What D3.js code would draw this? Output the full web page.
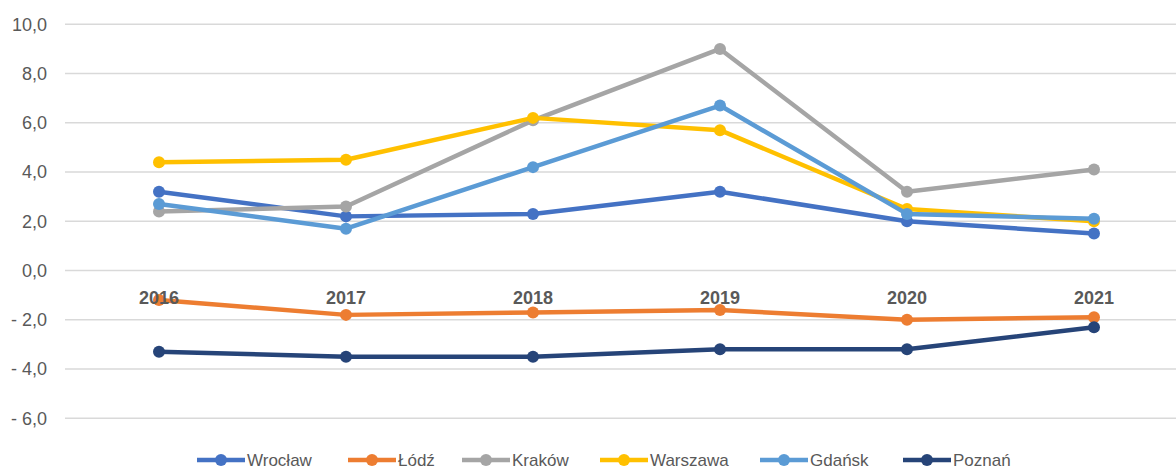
<!DOCTYPE html>
<html>
<head>
<meta charset="utf-8">
<script src="https://cdn.jsdelivr.net/npm/d3@7"></script>
<style>
  body { margin: 0; background: #fff; }
  text { font-family: "Liberation Sans", Arial, sans-serif; }
</style>
</head>
<body>
<svg width="1176" height="470"></svg>
<script>
var years = ["2016", "2017", "2018", "2019", "2020", "2021"];
var cities = ["Wrocław", "Łódź", "Kraków", "Warszawa", "Gdańsk", "Poznań"];
var colors = ["#4472C4", "#ED7D31", "#A5A5A5", "#FFC000", "#5B9BD5", "#264478"];

var wroclaw = [3.2, 2.2, 2.3, 3.2, 2.0, 1.5];
var lodz = [-1.2, -1.8, -1.7, -1.6, -2.0, -1.9];
var krakow = [2.4, 2.6, 6.1, 9.0, 3.2, 4.1];
var warszawa = [4.4, 4.5, 6.2, 5.7, 2.5, 2.0];
var gdansk = [2.7, 1.7, 4.2, 6.7, 2.3, 2.1];
var poznan = [-3.3, -3.5, -3.5, -3.2, -3.2, -2.3];

var yTicks = [10, 8, 6, 4, 2, 0, -2, -4, -6];

var series = [wroclaw, lodz, krakow, warszawa, gdansk, poznan].map(function(v, i) {
  return { name: cities[i], color: colors[i], values: v };
});

var svg = d3.select("svg"),
  width = +svg.attr("width"),
  height = +svg.attr("height");

var x = d3.scalePoint()
  .domain(years)
  .range([159, 1094]);

var y = d3.scaleLinear()
  .domain([-6, 10])
  .range([418.3, 24.3]);

var fmt = function(d) {
  var s = d3.format(".1f")(Math.abs(d)).replace(".", ",");
  return d < 0 ? "- " + s : s;
};

// gridlines
svg.append("g")
  .selectAll("line")
  .data(yTicks)
  .enter().append("line")
  .attr("x1", 65)
  .attr("x2", width)
  .attr("y1", function(d) { return y(d); })
  .attr("y2", function(d) { return y(d); })
  .style("stroke", "#d9d9d9")
  .style("stroke-width", 1.5);

// y labels
svg.append("g")
  .selectAll("text")
  .data(yTicks)
  .enter().append("text")
  .attr("x", 47)
  .attr("y", function(d) { return y(d); })
  .attr("dy", "0.35em")
  .attr("text-anchor", "end")
  .style("font-size", "18px")
  .style("fill", "#595959")
  .text(fmt);

var line = d3.line()
  .x(function(d, i) { return x(years[i]); })
  .y(function(d) { return y(d); });

var g = svg.append("g")
  .selectAll("g")
  .data(series)
  .enter().append("g");

g.append("path")
  .attr("d", function(d) { return line(d.values); })
  .style("fill", "none")
  .style("stroke", function(d) { return d.color; })
  .style("stroke-width", 4.5)
  .style("stroke-linejoin", "round");

g.selectAll("circle")
  .data(function(d) { return d.values.map(function(v, i) { return { v: v, i: i, c: d.color }; }); })
  .enter().append("circle")
  .attr("cx", function(d) { return x(years[d.i]); })
  .attr("cy", function(d) { return y(d.v); })
  .attr("r", 6)
  .style("fill", function(d) { return d.c; });

// year labels (drawn above the lines, as in the original)
svg.append("g")
  .selectAll("text")
  .data(years)
  .enter().append("text")
  .attr("x", function(d) { return x(d); })
  .attr("y", y(0) + 27)
  .attr("dy", "0.35em")
  .attr("text-anchor", "middle")
  .style("font-size", "18px")
  .style("font-weight", "bold")
  .style("fill", "#595959")
  .text(function(d) { return d; });

// legend
var legendX = [197, 348, 462, 600, 760, 903];
var leg = svg.append("g")
  .selectAll("g")
  .data(series)
  .enter().append("g")
  .attr("transform", function(d, i) { return "translate(" + legendX[i] + ",460)"; });

leg.append("line")
  .attr("x1", 0).attr("x2", 48)
  .style("stroke", function(d) { return d.color; })
  .style("stroke-width", 4.5);

leg.append("circle")
  .attr("cx", 24)
  .attr("r", 6)
  .style("fill", function(d) { return d.color; });

leg.append("text")
  .attr("x", 50)
  .attr("dy", "0.35em")
  .style("font-size", "17px")
  .style("fill", "#595959")
  .text(function(d) { return d.name; });
</script>
</body>
</html>
